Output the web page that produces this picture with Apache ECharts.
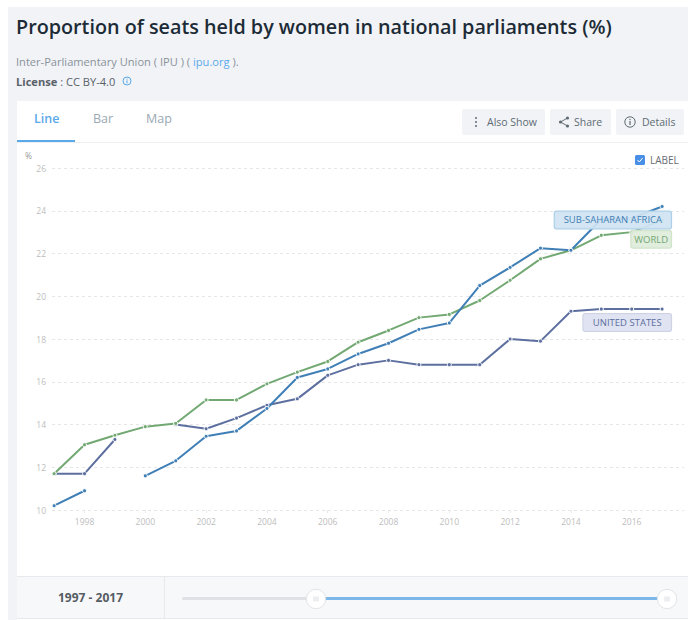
<!DOCTYPE html>
<html>
<head>
<meta charset="utf-8">
<script src="https://cdn.jsdelivr.net/npm/echarts@6/dist/echarts.min.js"></script>
<style>
html,body{margin:0;padding:0;background:#fff;width:688px;height:620px;overflow:hidden;font-family:"Open Sans",sans-serif}
.a{position:absolute;white-space:nowrap}
.btn{position:absolute;top:109px;height:26px;background:#f1f3f7;border-radius:2px;font-size:10.5px;line-height:26px;color:#5f6b73}
.btn svg{position:absolute;top:6px;left:7px}
.btn span{position:absolute;top:0;white-space:nowrap}
</style>
</head>
<body>
<div class="a" style="left:8px;top:7px;width:680px;height:613px;background:#f1f3f7"></div>
<div class="a" style="left:16px;top:12px;font-size:19.75px;font-weight:600;color:#1c2b36;line-height:30px">Proportion of seats held by women in national parliaments (%)</div>
<div class="a" style="left:16px;top:54px;font-size:11.1px;color:#8a9299;line-height:16px">Inter-Parliamentary Union ( IPU ) ( <span style="color:#5aa9ea">ipu.org</span> ).</div>
<div class="a" style="left:16px;top:74px;font-size:11.1px;color:#5a6269;line-height:16px"><b style="font-weight:700">License</b> : CC BY-4.0</div>
<svg class="a" style="left:122px;top:76px" width="10" height="10" viewBox="0 0 10 10"><circle cx="5" cy="5" r="4" fill="none" stroke="#5aa9ea" stroke-width="1"/><rect x="4.5" y="4.3" width="1" height="3" fill="#5aa9ea"/><rect x="4.5" y="2.6" width="1" height="1" fill="#5aa9ea"/></svg>

<div class="a" style="left:17px;top:101px;width:671px;height:519px;background:#fff"></div>
<div class="a" style="left:17px;top:142px;width:671px;height:1px;background:#eceef2"></div>
<div class="a" style="left:34px;top:109px;font-size:12.5px;font-weight:600;color:#5aa9ea;line-height:20px">Line</div>
<div class="a" style="left:93px;top:109px;font-size:12.5px;color:#9aa8b4;line-height:20px">Bar</div>
<div class="a" style="left:146px;top:109px;font-size:12.5px;color:#9aa8b4;line-height:20px">Map</div>
<div class="a" style="left:17px;top:140px;width:58px;height:2px;background:#5aa9ea"></div>

<div class="btn" style="left:462px;width:83px"><svg width="14" height="14" viewBox="0 0 14 14"><circle cx="7" cy="3" r="1" fill="#5f6b73"/><circle cx="7" cy="7" r="1" fill="#5f6b73"/><circle cx="7" cy="11" r="1" fill="#5f6b73"/></svg><span style="left:25px">Also Show</span></div>
<div class="btn" style="left:550px;width:61px"><svg width="14" height="14" viewBox="0 0 14 14"><path d="M10.5 3 L3.5 7 L10.5 11" fill="none" stroke="#5f6b73" stroke-width="1"/><circle cx="10.5" cy="3" r="1.6" fill="#5f6b73"/><circle cx="3.5" cy="7" r="1.6" fill="#5f6b73"/><circle cx="10.5" cy="11" r="1.6" fill="#5f6b73"/></svg><span style="left:24px">Share</span></div>
<div class="btn" style="left:616px;width:68px"><svg width="14" height="14" viewBox="0 0 14 14"><circle cx="7" cy="7" r="5.2" fill="none" stroke="#5f6b73" stroke-width="1"/><rect x="6.4" y="6" width="1.2" height="4" fill="#5f6b73"/><rect x="6.4" y="3.9" width="1.2" height="1.2" fill="#5f6b73"/></svg><span style="left:26px">Details</span></div>

<div id="chart" class="a" style="left:17px;top:143px;width:671px;height:433px"></div>

<svg class="a" style="left:635px;top:155px" width="10" height="10" viewBox="0 0 10 10"><rect width="10" height="10" rx="1.5" fill="#4a8fe7"/><path d="M2.5 5 L4.3 7 L7.6 3" fill="none" stroke="#fff" stroke-width="1"/></svg>
<div class="a" style="left:650px;top:153px;font-size:10px;color:#666e75;line-height:14px">LABEL</div>

<div class="a" style="left:17px;top:576px;width:671px;height:43px;background:#f7f8fa;border-top:1px solid #e6e9ee;border-bottom:1px solid #e6e9ee;box-sizing:border-box"></div>
<div class="a" style="left:164px;top:577px;width:1px;height:42px;background:#e6e9ee"></div>
<div class="a" style="left:17px;top:589px;width:147px;text-align:center;font-size:12px;font-weight:700;color:#555c63;line-height:18px">1997 - 2017</div>
<div class="a" style="left:182px;top:596.5px;width:134px;height:3.5px;background:#dfe1e6;border-radius:2px"></div>
<div class="a" style="left:316px;top:596.5px;width:350px;height:3.5px;background:#7db8ea"></div>
<svg class="a" style="left:304.5px;top:587.5px" width="22" height="22" viewBox="0 0 22 22"><circle cx="11" cy="11" r="9.7" fill="#fff" stroke="#e1e4e9"/><path d="M9 8.5v5M11 8.5v5M13 8.5v5" stroke="#cfd3d9" stroke-width=".8"/></svg>
<svg class="a" style="left:655.5px;top:587.5px" width="22" height="22" viewBox="0 0 22 22"><circle cx="11" cy="11" r="9.7" fill="#fff" stroke="#e1e4e9"/><path d="M9 8.5v5M11 8.5v5M13 8.5v5" stroke="#cfd3d9" stroke-width=".8"/></svg>

<script>
const years = [1997,1998,1999,2000,2001,2002,2003,2004,2005,2006,2007,2008,2009,2010,2011,2012,2013,2014,2015,2016,2017];
const tickYears = [1998,2000,2002,2004,2006,2008,2010,2012,2014,2016];
const subSaharanAfrica = [10.2,10.9,null,11.6,12.3,13.45,13.7,14.75,16.2,16.6,17.3,17.8,18.45,18.75,20.5,21.35,22.25,22.15,23.6,23.65,24.2];
const world = [11.7,13.05,13.5,13.9,14.05,15.15,15.15,15.9,16.45,16.95,17.85,18.4,19.0,19.15,19.8,20.75,21.75,22.15,22.85,23.0,23.55];
const unitedStates = [11.7,11.7,13.3,null,14.0,13.8,14.3,14.9,15.2,16.3,16.8,17.0,16.8,16.8,16.8,18.0,17.9,19.3,19.4,19.4,19.4];

function mk(name, vals, color, bg, border, offY, padX){
  return {
    name, type:'line', data: vals.map((v,i)=>[years[i],v]),
    connectNulls:false, smooth:false,
    symbol:'circle', symbolSize:4, showSymbol:true,
    lineStyle:{color,width:2},
    itemStyle:{color,borderColor:'#fff',borderWidth:1},
    clip:false,
    endLabel:{show:true,formatter:name,color,fontFamily:'Open Sans',fontSize:9.5,
      backgroundColor:bg,borderColor:border,borderWidth:1,borderRadius:2,
      padding:[4,padX,4,padX],align:'right',verticalAlign:'middle',offset:[1,offY],
      lineHeight:9}
  };
}
const chart = echarts.init(document.getElementById('chart'),null,{renderer:'svg'});
chart.setOption({
  animation:false,
  grid:{left:35,right:4,top:25,bottom:66},
  xAxis:{type:'value',min:1996.93,max:2017.72,splitLine:{show:false},axisLine:{show:false},
    axisTick:{show:true,length:3,lineStyle:{color:'#e8e8e8'},customValues:tickYears},
    axisLabel:{color:'#bdbdbd',fontSize:8.5,fontFamily:'Open Sans',margin:7,customValues:tickYears,formatter:v=>String(v)}},
  yAxis:{type:'value',min:10,max:26,interval:2,name:'%',
    nameTextStyle:{color:'#999',fontSize:8.5,fontFamily:'Open Sans',align:'right',padding:[0,20,2,0]},nameGap:6,
    axisLine:{show:false},axisTick:{show:false},
    axisLabel:{color:'#bdbdbd',fontSize:8.5,fontFamily:'Open Sans',margin:6},
    splitLine:{show:true,lineStyle:{color:'#e6e6e6',type:[3,3],width:1}}},
  series:[
    mk('UNITED STATES',unitedStates,'#5c6f9f','rgba(222,226,240,0.95)','#cdd3e4',13.5,9.5),
    mk('WORLD',world,'#72a872','rgba(222,236,218,0.92)','#cfe2ca',19,3),
    mk('SUB-SAHARAN AFRICA',subSaharanAfrica,'#3f7fb6','rgba(208,228,243,0.92)','#a9cde6',13.5,9)
  ]
});
</script>
</body>
</html>
